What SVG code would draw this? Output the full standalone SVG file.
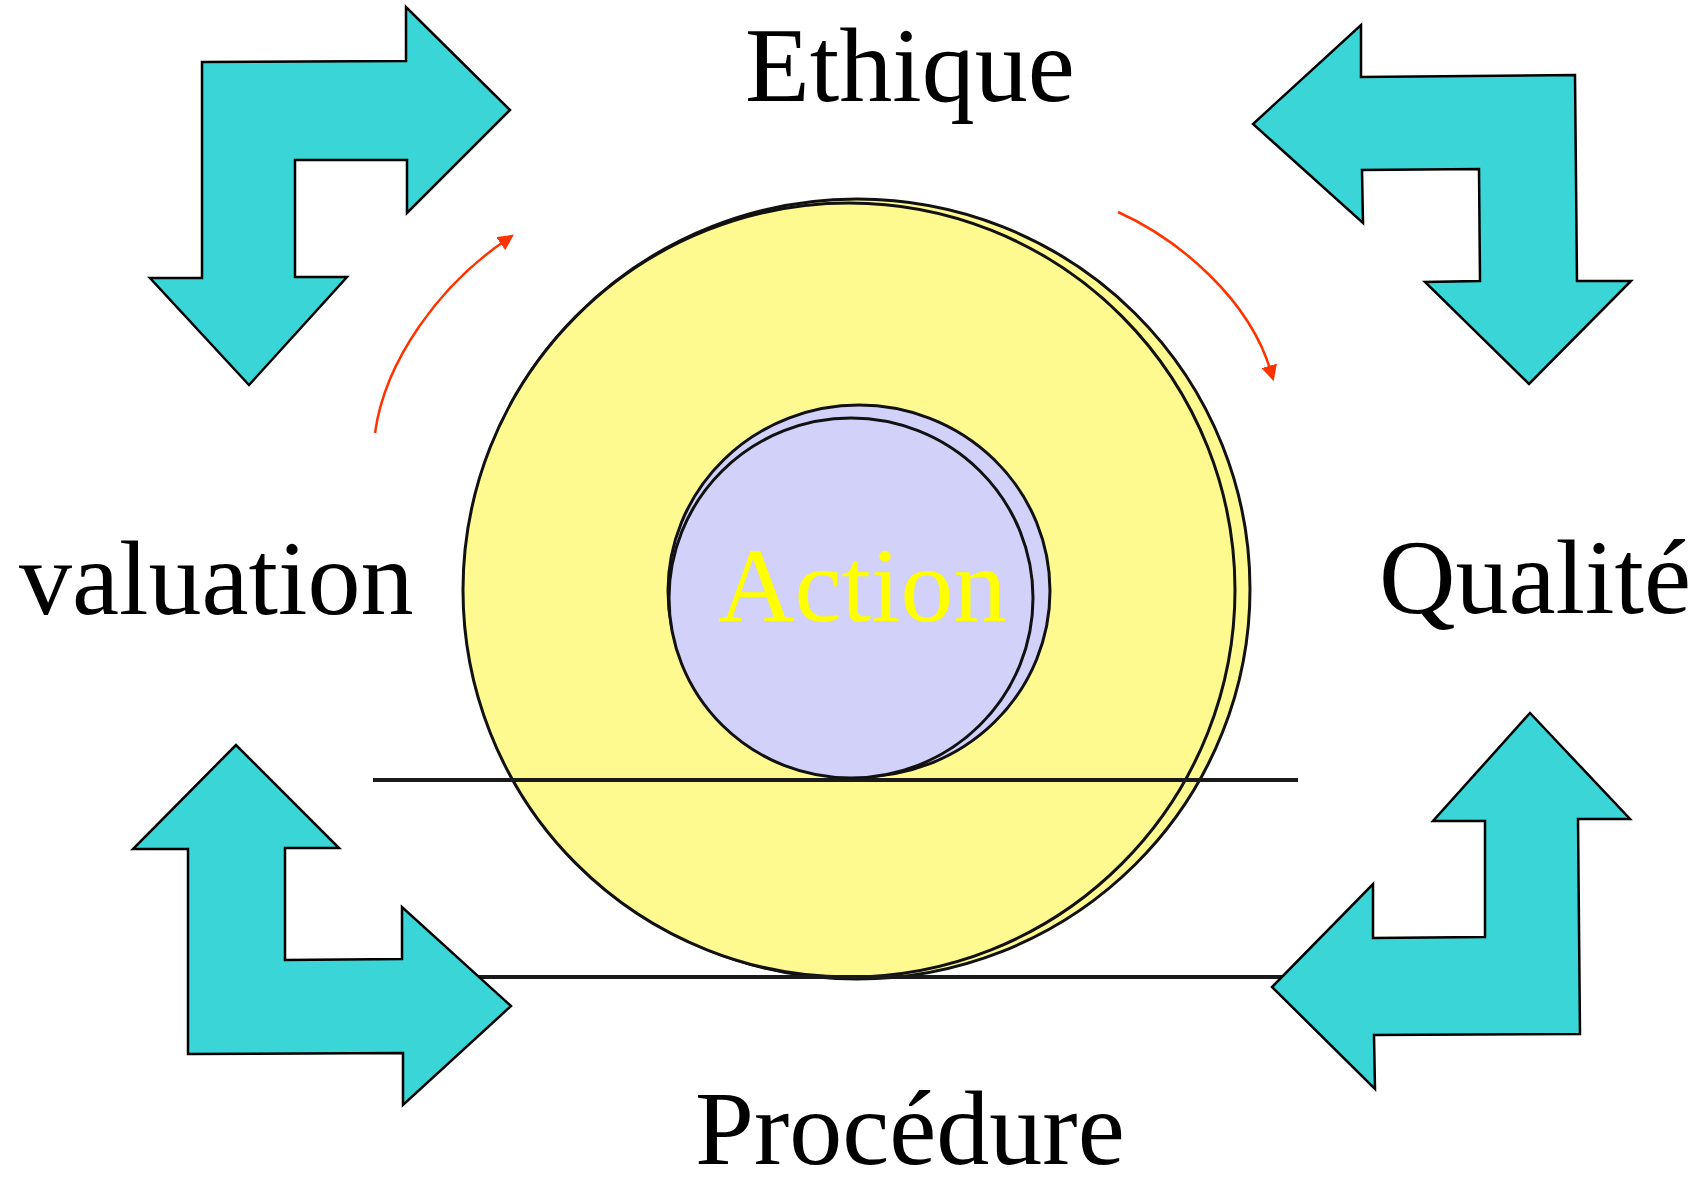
<svg xmlns="http://www.w3.org/2000/svg" width="1701" height="1179" viewBox="0 0 1701 1179">
  <style>
    .arrow { fill: #3AD5D6; stroke: #000; stroke-width: 2.5; stroke-linejoin: miter; }
    .label { font-family: "Liberation Serif", "Times New Roman", serif; font-size: 106px; fill: #000; }
    .ring { stroke: #111; stroke-width: 3; }
    .base { stroke: #1a1a1a; stroke-width: 4; fill: none; }
    .flow { fill: none; stroke: #FF3300; stroke-width: 2.5; }
  </style>
  <defs>
    <marker id="redhead" viewBox="0 0 10 10" refX="4" refY="5" markerWidth="16" markerHeight="16" markerUnits="userSpaceOnUse" orient="auto">
      <path d="M0,0 L10,5 L0,10 z" fill="#FF3300"/>
    </marker>
  </defs>
  <rect width="1701" height="1179" fill="#fff"/>

  <g id="wheel">
    <ellipse class="ring" cx="857" cy="589" rx="393" ry="390" fill="#FFFA90"/>
    <ellipse class="ring" cx="849" cy="590" rx="386" ry="387" fill="#FFFA90"/>
  </g>

  <line id="ground-top" class="base" x1="373" y1="780" x2="1298" y2="780"/>

  <g id="action">
    <ellipse class="ring" cx="859" cy="591" rx="191" ry="186" fill="#D1D1FA"/>
    <ellipse class="ring" cx="851" cy="598" rx="182" ry="180" fill="#D1D1FA"/>
    <text x="718" y="621" class="label" style="fill:#FFFF00">Action</text>
  </g>

  <line id="ground-bottom" class="base" x1="470" y1="977" x2="1290" y2="977"/>

  <g id="connectors">
    <path class="flow" d="M375,433 C385,360 440,285 506,240" marker-end="url(#redhead)"/>
    <path class="flow" d="M1118,212 C1180,240 1250,300 1271,372" marker-end="url(#redhead)"/>
  </g>

  <g id="arrow-top-left">
    <polygon class="arrow" points="202,62 406,61 406,7 510,110 407,213 407,160 295,160 295,277 347,277 249,385 150,278 202,278"/>
  </g>
  <g id="arrow-top-right">
    <polygon class="arrow" points="1361,77 1361,25 1253,124 1363,223 1362,170 1479,169 1480,281 1425,282 1529,384 1631,281 1577,281 1575,75"/>
  </g>
  <g id="arrow-bottom-left">
    <polygon class="arrow" points="236,745 133,849 188,849 188,1054 403,1053 403,1105 511,1006 402,907 402,959 285,960 285,848 339,848"/>
  </g>
  <g id="arrow-bottom-right">
    <polygon class="arrow" points="1530,713 1630,819 1578,819 1580,1034 1374,1035 1375,1089 1272,987 1373,884 1373,938 1485,937 1485,821 1433,821"/>
  </g>

  <g id="label-ethique"><text x="745" y="101" class="label">Ethique</text></g>
  <g id="label-valuation"><text x="19" y="614" class="label">valuation</text></g>
  <g id="label-qualite"><text x="1379" y="613" class="label">Qualité</text></g>
  <g id="label-procedure"><text x="695" y="1164" class="label">Procédure</text></g>
</svg>
